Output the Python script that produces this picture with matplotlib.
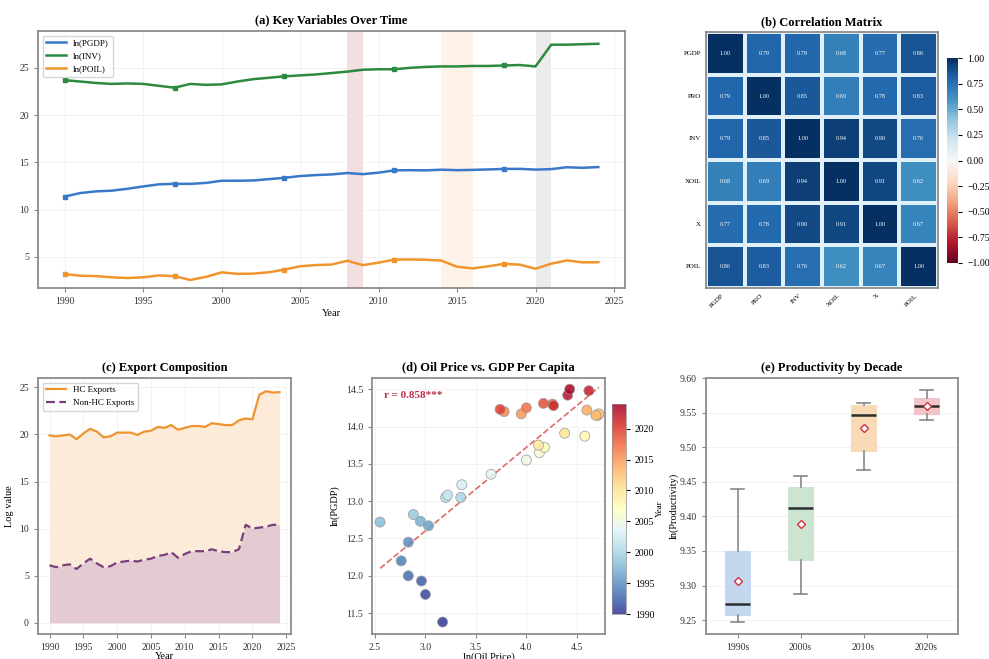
import numpy as np
import matplotlib
matplotlib.use("Agg")
import matplotlib.pyplot as plt
import seaborn as sns

plt.rcParams['font.family'] = ['Liberation Serif', 'DejaVu Serif']
plt.rcParams['axes.edgecolor'] = '#8c8c8c'
plt.rcParams['axes.linewidth'] = 1.3

years = list(range(1990, 2025))

ln_pgdp = [11.38, 11.75, 11.93, 12.00, 12.20, 12.45, 12.67, 12.73, 12.72, 12.82,
           13.05, 13.05, 13.08, 13.22, 13.36, 13.55, 13.65, 13.72, 13.87, 13.75,
           13.91, 14.15, 14.17, 14.15, 14.22, 14.17, 14.20, 14.25, 14.30, 14.31,
           14.23, 14.28, 14.48, 14.42, 14.50]
ln_inv = [23.70, 23.55, 23.40, 23.30, 23.35, 23.30, 23.10, 22.90, 23.30, 23.20,
          23.25, 23.55, 23.80, 23.95, 24.10, 24.20, 24.30, 24.45, 24.60, 24.80,
          24.85, 24.85, 25.00, 25.10, 25.15, 25.15, 25.20, 25.20, 25.25, 25.30,
          25.15, 27.45, 27.45, 27.50, 27.55]
ln_poil = [3.17, 3.00, 2.96, 2.83, 2.76, 2.83, 3.03, 2.95, 2.55, 2.88,
           3.35, 3.20, 3.22, 3.36, 3.65, 4.00, 4.13, 4.18, 4.58, 4.12,
           4.38, 4.71, 4.72, 4.69, 4.60, 3.95, 3.78, 4.00, 4.26, 4.17,
           3.74, 4.27, 4.62, 4.41, 4.43]

hc_exports = [19.9, 19.8, 19.9, 20.0, 19.5, 20.1, 20.6, 20.3, 19.7, 19.8,
              20.2, 20.2, 20.2, 19.95, 20.3, 20.4, 20.8, 20.7, 21.0, 20.5,
              20.7, 20.9, 20.9, 20.8, 21.2, 21.1, 21.0, 21.0, 21.5, 21.7,
              21.6, 24.2, 24.6, 24.45, 24.5]
nonhc_exports = [6.1, 5.9, 6.1, 6.2, 5.7, 6.3, 6.8, 6.3, 5.9, 6.0,
                 6.4, 6.5, 6.6, 6.5, 6.7, 6.8, 7.1, 7.2, 7.5, 6.9,
                 7.3, 7.6, 7.6, 7.6, 7.8, 7.6, 7.5, 7.5, 7.8, 10.4,
                 10.0, 10.1, 10.2, 10.4, 10.4]

corr_labels = ['PGDP', 'PRO', 'INV', 'XOIL', 'X', 'POIL']
corr_values = [[1.00, 0.79, 0.79, 0.68, 0.77, 0.86],
               [0.79, 1.00, 0.85, 0.69, 0.78, 0.83],
               [0.79, 0.85, 1.00, 0.94, 0.90, 0.76],
               [0.68, 0.69, 0.94, 1.00, 0.91, 0.62],
               [0.77, 0.78, 0.90, 0.91, 1.00, 0.67],
               [0.86, 0.83, 0.76, 0.62, 0.67, 1.00]]

decades = ['1990s', '2000s', '2010s', '2020s']
box_low = [9.248, 9.288, 9.467, 9.540]
box_q1 = [9.258, 9.337, 9.495, 9.548]
box_med = [9.273, 9.412, 9.546, 9.560]
box_q3 = [9.350, 9.443, 9.561, 9.571]
box_high = [9.440, 9.458, 9.564, 9.583]
box_mean = [9.307, 9.389, 9.528, 9.560]
box_colors = ['#c3d8ee', '#cbe5d1', '#f8dbb6', '#f4c4cb']

events = [(2008, 2009, '#f3dfe2'), (2014, 2016, '#fdf3e8'), (2020, 2021, '#ececec')]

W, H = 989, 659
fig = plt.figure(figsize=(W / 100, H / 100), dpi=100)


def box(l, t, r, b):
    return [l / W, 1 - b / H, (r - l) / W, (b - t) / H]


def style(ax):
    ax.grid(True, color='#f0f0f0', linewidth=0.6)
    ax.set_axisbelow(True)
    ax.tick_params(labelsize=7, length=3, width=0.8, color='#888888', labelcolor='#333333')


# (a)
ax = fig.add_axes(box(38, 31, 625, 288))
for s, e, c in events:
    ax.axvspan(s, e, color=c, lw=0)
for vals, col, name in [(ln_pgdp, '#3a78c8', 'ln(PGDP)'),
                        (ln_inv, '#2c8a40', 'ln(INV)'),
                        (ln_poil, '#f0952e', 'ln(POIL)')]:
    ax.plot(years, vals, color=col, lw=1.8, label=name)
    ax.plot(years[::7], vals[::7], color=col, lw=0, marker='s', ms=3)
ax.set_xlim(1988.3, 2025.7)
ax.set_ylim(1.7, 28.9)
ax.set_xticks(range(1990, 2026, 5))
ax.set_yticks([5, 10, 15, 20, 25])
ax.set_xlabel('Year', fontsize=7.5, labelpad=2)
ax.set_title('(a) Key Variables Over Time', fontsize=9, fontweight='bold', pad=5)
ax.legend(loc='upper left', fontsize=6.5, frameon=True, edgecolor='#cccccc', handlelength=2.2)
style(ax)

# (b)
ax = fig.add_axes(box(706, 32, 938, 288))
cax = fig.add_axes(box(947, 58, 958, 263))
sns.heatmap(np.array(corr_values), annot=True, fmt='.2f', cmap='RdBu', vmin=-1, vmax=1,
            linewidths=1.5, linecolor='#dff0fb', ax=ax, cbar_ax=cax,
            annot_kws={'fontsize': 4.5, 'color': 'white'},
            xticklabels=corr_labels, yticklabels=corr_labels)
for sp in ax.spines.values():
    sp.set_visible(True)
    sp.set_color('#8c8c8c')
ax.set_xticklabels(corr_labels, rotation=45, ha='right', fontsize=5)
ax.set_yticklabels(corr_labels, rotation=0, fontsize=5)
ax.tick_params(length=0)
ax.set_title('(b) Correlation Matrix', fontsize=9, fontweight='bold', pad=5)
cax.tick_params(labelsize=7, length=3)
cax.set_yticks([-1, -0.75, -0.5, -0.25, 0, 0.25, 0.5, 0.75, 1])
cax.set_yticklabels(['\u22121.00', '\u22120.75', '\u22120.50', '\u22120.25', '0.00', '0.25', '0.50', '0.75', '1.00'])

# (c)
ax = fig.add_axes(box(38, 378, 291, 634))
ax.fill_between(years, 0, hc_exports, color='#fbebd8', lw=0)
ax.fill_between(years, 0, nonhc_exports, color='#e3cbd1', lw=0)
ax.plot(years, hc_exports, color='#ee9330', lw=1.6, label='HC Exports')
ax.plot(years, nonhc_exports, color='#7a3e7e', lw=1.6, ls=(0, (4, 2)), label='Non-HC Exports')
ax.set_xlim(1988.3, 2025.7)
ax.set_ylim(-1.2, 26)
ax.set_xticks(range(1990, 2026, 5))
ax.set_yticks([0, 5, 10, 15, 20, 25])
ax.set_xlabel('Year', fontsize=7.5, labelpad=0)
ax.set_ylabel('Log value', fontsize=7.5)
ax.set_title('(c) Export Composition', fontsize=9, fontweight='bold', pad=5)
ax.legend(loc='upper left', fontsize=6.5, frameon=True, edgecolor='#cccccc', handlelength=2.2)
style(ax)

# (d)
ax = fig.add_axes(box(372, 378, 605, 634))
cax = fig.add_axes(box(612, 404, 626, 614))
sc = ax.scatter(ln_poil, ln_pgdp, c=years, cmap='RdYlBu_r', s=52, alpha=0.85,
                edgecolors='#999999', linewidths=0.6, zorder=3)
slope, inter = np.polyfit(ln_poil, ln_pgdp, 1)
xs = np.array([min(ln_poil), max(ln_poil)])
ax.plot(xs, slope * xs + inter, color='#d9534f', ls='--', lw=1.2, alpha=0.85, zorder=2)
ax.text(0.05, 0.93, 'r = 0.858***', transform=ax.transAxes, fontsize=8,
        fontweight='bold', color='#c0304a', va='center')
ax.set_xlim(2.47, 4.78)
ax.set_ylim(11.22, 14.65)
ax.set_xticks([2.5, 3.0, 3.5, 4.0, 4.5])
ax.set_yticks([11.5, 12.0, 12.5, 13.0, 13.5, 14.0, 14.5])
ax.set_xlabel('ln(Oil Price)', fontsize=7.5, labelpad=0)
ax.set_ylabel('ln(PGDP)', fontsize=7.5)
ax.set_title('(d) Oil Price vs. GDP Per Capita', fontsize=9, fontweight='bold', pad=5)
style(ax)
cb = fig.colorbar(sc, cax=cax)
cb.set_label('Year', fontsize=6.5, labelpad=1)
cb.outline.set_linewidth(0.5)
cax.tick_params(labelsize=7, length=3)

# (e)
ax = fig.add_axes(box(706, 378, 958, 634))
stats = [dict(label=d, whislo=lo, q1=a, med=m, q3=b, whishi=hi, mean=mu, fliers=[])
         for d, lo, a, m, b, hi, mu in zip(decades, box_low, box_q1, box_med, box_q3, box_high, box_mean)]
bp = ax.bxp(stats, showmeans=True, patch_artist=True, widths=0.4,
            medianprops=dict(color='#2d2d2d', lw=1.8),
            whiskerprops=dict(color='#888888', lw=1.2),
            capprops=dict(color='#888888', lw=1.2),
            boxprops=dict(edgecolor='#bbbbbb', lw=0.8),
            meanprops=dict(marker='D', markerfacecolor='white', markeredgecolor='#d0343a',
                           markersize=4.5, markeredgewidth=1))
for p, c in zip(bp['boxes'], box_colors):
    p.set_facecolor(c)
    p.set_edgecolor(c)
ax.set_ylim(9.23, 9.60)
ax.set_xlim(0.5, 4.5)
ax.set_yticks([9.25, 9.30, 9.35, 9.40, 9.45, 9.50, 9.55, 9.60])
ax.set_yticklabels(['9.25', '9.30', '9.35', '9.40', '9.45', '9.50', '9.55', '9.60'])
ax.set_ylabel('ln(Productivity)', fontsize=7.5, labelpad=1)
ax.set_title('(e) Productivity by Decade', fontsize=9, fontweight='bold', pad=5)
style(ax)
ax.grid(False, axis='x')

fig.savefig('out.png', dpi=100)
